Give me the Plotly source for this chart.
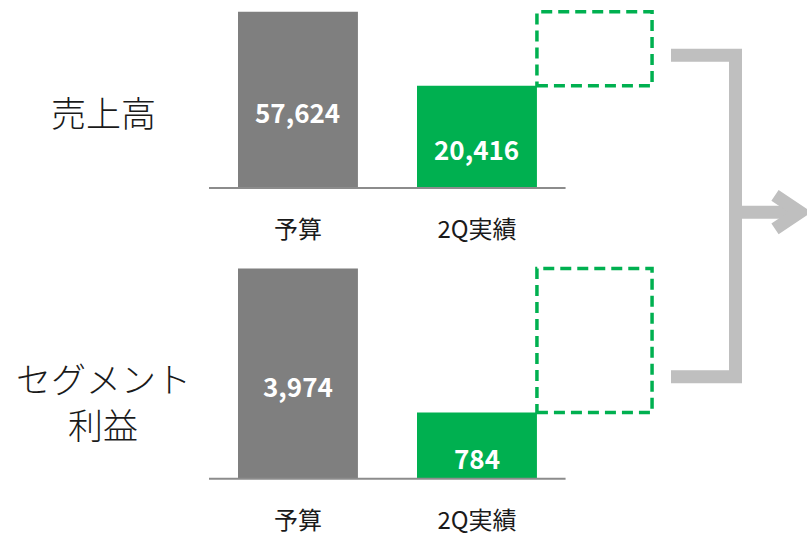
import math
import plotly.graph_objects as go

W, H = 807, 536

# --- data -------------------------------------------------------------
categories = ["予算", "2Q実績"]
metric_labels = ["売上高", "セグメント", "利益"]
sales_values = [57624, 20416]      # 売上高: budget, 2Q actual
profit_values = [3974, 784]        # セグメント利益: budget, 2Q actual

GRAY = "#7F7F7F"
GREEN = "#00B050"
ARROW = "#BFBFBF"
TEXT = "#1A1A1A"
FONT = "Noto Sans CJK JP"
BAR_W = 0.67


def py(px):
    """pixel row (from top) -> paper y"""
    return 1 - px / H


def px_x(px):
    return px / W


fig = go.Figure()

panels = [
    # values, x axis, y axis, y-domain in pixels (bottom, top), log range
    (sales_values, "x", "y", (190.5, 0), [3.6882, 4.8327]),
    (profit_values, "x2", "y2", (485, 250), [2.5708, 3.7055]),
]

for vals, xa, ya, (pb, pt), rng in panels:
    fig.add_trace(go.Bar(
        x=[0, 1], y=vals, xaxis=xa, yaxis=ya, width=BAR_W,
        marker=dict(color=[GRAY, GREEN], line=dict(width=0)),
        hoverinfo="skip", showlegend=False,
    ))
    # value labels, centred in each bar and nudged slightly down
    for i, v in enumerate(vals):
        fig.add_annotation(xref=xa, yref=ya, x=i,
                           y=(rng[0] + math.log10(v)) / 2,
                           text=f"{v:,}", showarrow=False, yshift=-12,
                           font=dict(family=FONT, size=26, color="white",
                                     weight="bold"))
    # remaining gap from the 2Q actual up to the budget
    fig.add_shape(type="rect", xref=xa, yref=ya,
                  x0=1 + BAR_W / 2, x1=1 + BAR_W * 1.46,
                  y0=vals[1], y1=vals[0],
                  line=dict(color=GREEN, width=3.5, dash="11px,6px"),
                  fillcolor="rgba(0,0,0,0)")
    # baseline
    fig.add_shape(type="line", xref=xa, yref=ya + " domain",
                  x0=-0.497, x1=1.495, y0=0, y1=0,
                  line=dict(color="#8C8C8C", width=2))

xdom = [px_x(209), px_x(700)]
xrange_ = [-0.497, -0.497 + (700 - 209) / 179]
axis_x = dict(domain=xdom, range=xrange_, tickmode="array", tickvals=[0, 1],
              ticktext=categories, showgrid=False, zeroline=False,
              showline=False, ticks="", ticklabelstandoff=25,
              tickfont=dict(family=FONT, size=24, color=TEXT))
fig.update_layout(
    xaxis=dict(axis_x, anchor="y"),
    xaxis2=dict(axis_x, anchor="y2"),
    yaxis=dict(type="log", domain=[py(190.5), py(0)], range=panels[0][4],
               visible=False, anchor="x"),
    yaxis2=dict(type="log", domain=[py(485), py(250)], range=panels[1][4],
                visible=False, anchor="x2"),
)

# metric names on the left
for label, yc in zip(metric_labels, [113, 383, 429]):
    fig.add_annotation(xref="paper", yref="paper", x=px_x(103), y=py(yc),
                       text=label, showarrow=False, xanchor="center",
                       yanchor="middle", borderpad=0,
                       font=dict(family=FONT, size=35, color=TEXT,
                                 weight=300))

# bracket joining both panels, with an arrow pointing right
bracket = (f"M {px_x(671)},{py(56)} L {px_x(735.5)},{py(56)} "
           f"L {px_x(735.5)},{py(381.7)} L {px_x(671)},{py(381.7)}")
fig.add_shape(type="path", xref="paper", yref="paper", path=bracket,
              line=dict(color=ARROW, width=13))
fig.add_shape(type="line", xref="paper", yref="paper",
              x0=px_x(735.5), x1=px_x(800), y0=py(215), y1=py(215),
              line=dict(color=ARROW, width=13))
head = (f"M {px_x(775)},{py(198)} L {px_x(800)},{py(215)} "
        f"L {px_x(775)},{py(232)}")
fig.add_shape(type="path", xref="paper", yref="paper", path=head,
              line=dict(color=ARROW, width=13))

fig.update_layout(
    width=W, height=H, margin=dict(l=0, r=0, t=0, b=0),
    paper_bgcolor="white", plot_bgcolor="white",
)

fig.write_html("out.html", config={"displayModeBar": False})
